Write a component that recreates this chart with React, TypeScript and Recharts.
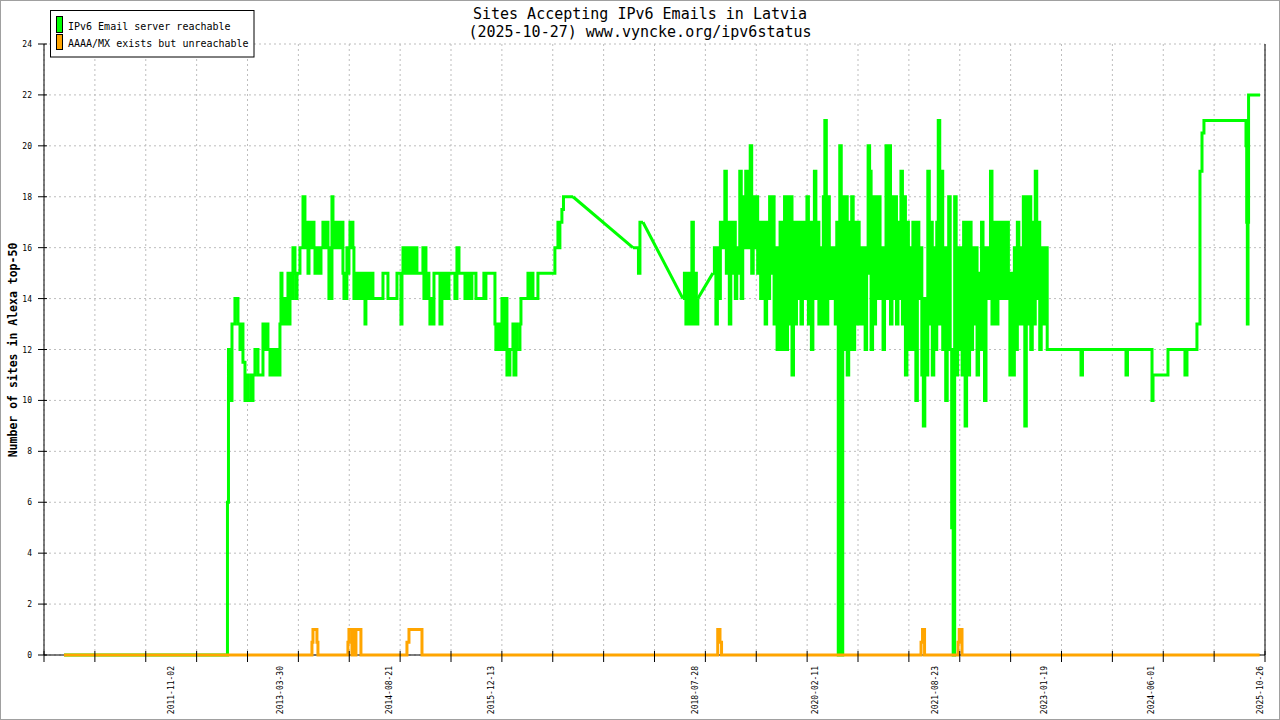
import React from 'react';
import { LineChart, Line, XAxis, YAxis, CartesianGrid, ReferenceLine } from 'recharts';

// time axis is in decimal years
const X_MIN = 2010.205;
const X_MAX = 2025.885;
const Y_TICKS = [0, 2, 4, 6, 8, 10, 12, 14, 16, 18, 20, 22, 24];
const LABEL_DATES = [
  '2011-11-02', '2013-03-30', '2014-08-21', '2015-12-13', '2018-07-28',
  '2020-02-11', '2021-08-23', '2023-01-19', '2024-06-01', '2025-10-26',
];

// IPv6 Email server reachable: [year, sites]
const GREEN_EARLY: [number, number][] = [
  [2010.462, 0], [2012.561, 6], [2012.574, 12], [2012.587, 10], [2012.593, 11], [2012.606, 10],
  [2012.619, 13], [2012.657, 14], [2012.696, 13], [2012.722, 12], [2012.735, 13], [2012.76, 11.5],
  [2012.786, 10], [2012.812, 11], [2012.824, 10], [2012.863, 11], [2012.876, 10], [2012.889, 11],
  [2012.914, 12], [2012.953, 11], [2013.017, 13], [2013.043, 12], [2013.056, 13], [2013.081, 12],
  [2013.107, 11], [2013.133, 12], [2013.158, 11], [2013.184, 12], [2013.21, 11], [2013.235, 13],
  [2013.248, 15], [2013.261, 13], [2013.287, 14], [2013.312, 13], [2013.338, 15], [2013.351, 13],
  [2013.364, 15], [2013.389, 14], [2013.402, 16], [2013.428, 15], [2013.441, 14], [2013.454, 15],
  [2013.492, 16], [2013.531, 18], [2013.556, 17], [2013.569, 16], [2013.582, 17], [2013.595, 15],
  [2013.608, 17], [2013.633, 16], [2013.659, 17], [2013.672, 16], [2013.685, 15], [2013.697, 16],
  [2013.71, 15], [2013.723, 16], [2013.749, 15], [2013.762, 16], [2013.787, 17], [2013.813, 16],
  [2013.826, 17], [2013.852, 16], [2013.864, 14], [2013.877, 16], [2013.89, 14], [2013.903, 18],
  [2013.916, 17], [2013.941, 16], [2013.954, 17], [2013.967, 16], [2013.98, 17], [2014.018, 16],
  [2014.031, 17], [2014.044, 15], [2014.057, 14], [2014.07, 15], [2014.083, 14], [2014.095, 16],
  [2014.108, 15], [2014.121, 16], [2014.134, 17], [2014.147, 16], [2014.16, 17], [2014.172, 16],
  [2014.185, 14], [2014.198, 15], [2014.211, 14], [2014.224, 15], [2014.25, 14], [2014.262, 15],
  [2014.288, 14], [2014.301, 15], [2014.327, 13], [2014.339, 15], [2014.365, 14], [2014.378, 15],
  [2014.404, 14], [2014.416, 15], [2014.429, 14], [2014.558, 15], [2014.622, 14], [2014.738, 15],
  [2014.789, 13], [2014.802, 15], [2014.815, 16], [2014.84, 15], [2014.853, 16], [2014.879, 15],
  [2014.892, 16], [2014.917, 15], [2014.93, 16], [2014.956, 15], [2014.969, 16], [2014.994, 15],
  [2015.071, 16], [2015.084, 14], [2015.097, 16], [2015.11, 14], [2015.123, 15], [2015.148, 14],
  [2015.161, 13], [2015.174, 14], [2015.187, 13], [2015.213, 15], [2015.29, 13], [2015.315, 15],
  [2015.341, 14], [2015.354, 15], [2015.367, 14], [2015.38, 15], [2015.392, 14], [2015.405, 15],
  [2015.482, 14], [2015.508, 16], [2015.534, 15], [2015.611, 14], [2015.623, 15], [2015.636, 14],
  [2015.649, 15], [2015.662, 14], [2015.675, 15], [2015.687, 14], [2015.7, 15], [2015.752, 14],
  [2015.854, 15], [2015.867, 14], [2015.88, 15], [2015.996, 13], [2016.008, 12], [2016.021, 13],
  [2016.034, 12], [2016.047, 13], [2016.06, 12], [2016.073, 13], [2016.086, 14], [2016.098, 12],
  [2016.111, 14], [2016.124, 12], [2016.137, 14], [2016.15, 11], [2016.188, 12], [2016.227, 13],
  [2016.24, 11], [2016.265, 13], [2016.278, 12], [2016.317, 13], [2016.33, 14], [2016.42, 15],
  [2016.432, 14], [2016.445, 15], [2016.458, 14], [2016.471, 15], [2016.484, 14], [2016.548, 15],
  [2016.766, 16], [2016.805, 17], [2016.818, 16], [2016.83, 17], [2016.856, 17.5], [2016.876, 18],
  [2016.998, 18],
];

const GREEN_MID: [number, number][] = [
  [2017.768, 16], [2017.839, 15], [2017.858, 17], [2017.897, 17],
];

// weekly samples
const WEEK = 7 / 365.25;
const WEEKLY_A_START = 2018.41;
const WEEKLY_A = [14, 15, 13, 15, 14, 13, 17, 13, 15, 13, 14];

const WEEKLY_B_START = 2018.795;
const WEEKLY_B = [
  15, 16, 13, 16, 14, 17, 16, 17, 19, 15,
  17, 13, 17, 15, 17, 14, 16, 15, 19, 14,
  18, 16, 19, 16, 19, 20, 15, 18, 16, 18,
  15, 17, 14, 17, 15, 13, 17, 14, 18, 15,
  18, 13, 16, 12, 15, 17, 12, 16, 18, 12,
  18, 13, 18, 11, 17, 13, 17, 14, 17, 13,
  17, 14, 16, 18, 13, 17, 12, 16, 19, 14,
  17, 13, 16, 13, 18, 21, 13, 18, 14, 16,
  14, 16, 13, 17, 0, 20, 0, 18, 12, 18,
  11, 17, 12, 18, 12, 17, 13, 17, 13, 16,
  13, 16, 12, 15, 20, 19, 12, 18, 13, 18,
  14, 18, 14, 16, 12, 15, 20, 14, 20, 13,
  18, 14, 18, 13, 17, 14, 19, 13, 18, 11,
  17, 12, 16, 12, 17, 12, 10, 17, 14, 16,
  11, 9, 14, 11, 19, 13, 17, 11, 16, 12,
  17, 21, 13, 19, 12, 16, 10, 16, 18, 12,
  5, 0, 18, 11, 16, 12, 16, 11, 17, 9,
  17, 11, 17, 12, 16, 13, 16, 11, 15, 12,
  17, 12, 10, 16, 14, 16, 19, 13, 15, 17,
  13, 17, 14, 17, 14, 17, 14, 17, 14, 11,
  15, 11, 16, 12, 17, 13, 16, 13, 18, 9,
  18, 13, 18, 12, 17, 13, 19, 14, 17, 12,
  13, 16, 13, 16, 12,
];

const GREEN_LATE: [number, number][] = [
  [2023.522, 11], [2023.541, 12], [2024.1, 11], [2024.119, 12], [2024.434, 10], [2024.447, 11],
  [2024.639, 12], [2024.857, 11], [2024.883, 12], [2025.011, 13], [2025.05, 19], [2025.076, 20.5],
  [2025.101, 21], [2025.641, 20], [2025.65, 17], [2025.658, 13], [2025.667, 17], [2025.674, 22],
  [2025.821, 22],
];

// AAAA/MX exists but unreachable
const ORANGE: [number, number][] = [
  [2010.462, 0], [2013.646, 0.5], [2013.659, 1], [2013.71, 0.5], [2013.723, 0],
  [2014.108, 0.5], [2014.121, 1], [2014.16, 0], [2014.172, 1], [2014.198, 0], [2014.211, 1],
  [2014.275, 0], [2014.866, 0.5], [2014.892, 1], [2015.059, 0], [2018.857, 1], [2018.886, 0.5],
  [2018.906, 0], [2021.468, 0.5], [2021.487, 1], [2021.513, 0], [2021.943, 0.5], [2021.958, 1],
  [2021.994, 0], [2025.816, 0],
];

const GREEN = '#00ff00';
const ORANGE_C = '#ffa500';
const MONO = '"DejaVu Sans Mono", "Liberation Mono", monospace';

const dateToYear = (d: string) => {
  const [y, m, day] = d.split('-').map(Number);
  const start = Date.UTC(y, 0, 1);
  return y + (Date.UTC(y, m - 1, day) - start) / (Date.UTC(y + 1, 0, 1) - start);
};

const toPoints = (pairs: [number, number][]) => pairs.map(([x, v]) => ({ x, v }));
const weekly = (start: number, values: number[]) => values.map((v, i) => ({ x: start + i * WEEK, v }));

const greenSegments = [
  toPoints(GREEN_EARLY),
  toPoints(GREEN_MID),
  weekly(WEEKLY_A_START, WEEKLY_A),
  [...weekly(WEEKLY_B_START, WEEKLY_B), ...toPoints(GREEN_LATE)],
];
// no data in between: gnuplot just joins the ends
const greenGaps = greenSegments.slice(1).map((seg, i) => {
  const prev = greenSegments[i];
  return [prev[prev.length - 1], seg[0]];
});
const orangePoints = toPoints(ORANGE);

// bottom axis drawn as a series so the data sits on top of it
const zeroLine = [{ x: X_MIN, v: 0 }, { x: X_MAX, v: 0 }];

const labelYears = LABEL_DATES.map(dateToYear);
const uniformTicks = Array.from({ length: 25 }, (_, k) => X_MIN + (k * (X_MAX - X_MIN)) / 24);

const XTickMark = ({ x, y }: any) => (
  <line x1={x} x2={x} y1={y - 5} y2={y + 6} stroke="#000" />
);

const DateLabel = ({ x, y, payload }: any) => {
  const i = labelYears.findIndex((v) => Math.abs(v - payload.value) < 1e-6);
  return (
    <text
      x={0}
      y={0}
      transform={`translate(${x + 3},${y + 11}) rotate(-90)`}
      textAnchor="end"
      fontSize={8}
      fontFamily={MONO}
      fill="#000"
    >
      {LABEL_DATES[i]}
    </text>
  );
};

const YTick = ({ x, y, payload }: any) => (
  <g>
    <line x1={x - 6} x2={x + 3} y1={y} y2={y} stroke="#000" />
    <text x={x - 12} y={y + 3} textAnchor="end" fontSize={8} fontFamily={MONO} fill="#000">
      {payload.value}
    </text>
  </g>
);

export default function App() {
  return (
    <div style={{ position: 'absolute', left: 0, top: 0, width: 1280, height: 720, background: '#fff' }}>
      <LineChart width={1280} height={720} margin={{ top: 44, right: 15, bottom: 63, left: 0 }}>
        <CartesianGrid xAxisId="t" stroke="#bdbdbd" strokeDasharray="2 3" />
        <XAxis
          xAxisId="t"
          type="number"
          dataKey="x"
          domain={[X_MIN, X_MAX]}
          allowDataOverflow
          ticks={uniformTicks}
          interval={0}
          tickSize={0}
          tickMargin={0}
          tickLine={false}
          tick={(p: any) => <XTickMark {...p} />}
          axisLine={false}
          height={1}
        />
        <XAxis
          xAxisId="d"
          type="number"
          dataKey="x"
          domain={[X_MIN, X_MAX]}
          allowDataOverflow
          ticks={labelYears}
          interval={0}
          tickSize={0}
          tickMargin={0}
          tickLine={false}
          tick={(p: any) => <DateLabel {...p} />}
          axisLine={false}
          height={1}
        />
        <YAxis
          type="number"
          domain={[0, 24]}
          ticks={Y_TICKS}
          interval={0}
          width={44}
          tickSize={0}
          tickMargin={0}
          tickLine={false}
          tick={(p: any) => <YTick {...p} />}
          axisLine={{ stroke: '#000' }}
        />
        <ReferenceLine xAxisId="t" x={X_MAX} stroke="#000" />
        <Line
          xAxisId="t"
          data={zeroLine}
          dataKey="v"
          type="linear"
          stroke="#000"
          strokeWidth={1}
          dot={false}
          isAnimationActive={false}
        />
        {greenSegments.map((seg, i) => (
          <Line
            key={`g${i}`}
            xAxisId="t"
            data={seg}
            dataKey="v"
            type="stepAfter"
            stroke={GREEN}
            strokeWidth={3}
            dot={false}
            isAnimationActive={false}
          />
        ))}
        {greenGaps.map((seg, i) => (
          <Line
            key={`gap${i}`}
            xAxisId="t"
            data={seg}
            dataKey="v"
            type="linear"
            stroke={GREEN}
            strokeWidth={3}
            dot={false}
            isAnimationActive={false}
          />
        ))}
        <Line
          xAxisId="d"
          data={orangePoints}
          dataKey="v"
          type="stepAfter"
          stroke={ORANGE_C}
          strokeWidth={3}
          dot={false}
          isAnimationActive={false}
        />
      </LineChart>
      <svg width={1280} height={720} style={{ position: 'absolute', left: 0, top: 0, pointerEvents: 'none' }}>
        <rect x={0.5} y={0.5} width={1279} height={719} fill="none" stroke="#a0a0a0" />
        <text x={640} y={19} textAnchor="middle" fontSize={15} fontFamily={MONO} fill="#000">
          Sites Accepting IPv6 Emails in Latvia
        </text>
        <text x={640} y={37} textAnchor="middle" fontSize={15} fontFamily={MONO} fill="#000">
          (2025-10-27) www.vyncke.org/ipv6status
        </text>
        <text
          transform="translate(17,350) rotate(-90)"
          textAnchor="middle"
          fontSize={11.5}
          fontWeight="bold"
          fontFamily={MONO}
          fill="#000"
        >
          Number of sites in Alexa top-50
        </text>
        <rect x={50.5} y={10.5} width={203.5} height={46.5} fill="#fff" stroke="#000" />
        <rect x={56.5} y={16.5} width={6} height={16} fill={GREEN} stroke="#000" />
        <text x={68} y={30} fontSize={10} fontFamily={MONO} fill="#000">IPv6 Email server reachable</text>
        <rect x={56.5} y={34.5} width={6} height={15} fill={ORANGE_C} stroke="#000" />
        <text x={68} y={47} fontSize={10} fontFamily={MONO} fill="#000">AAAA/MX exists but unreachable</text>
      </svg>
    </div>
  );
}
